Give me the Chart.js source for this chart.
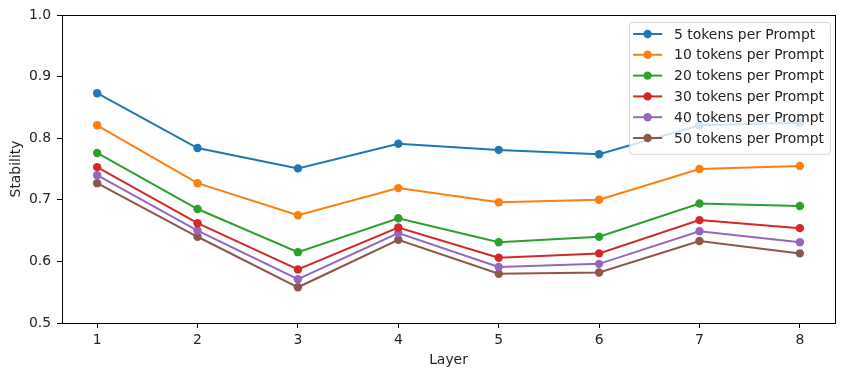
<!DOCTYPE html>
<html lang="en">
<head>
  <meta charset="UTF-8" />
  <title>Stability per Layer</title>
  <script src="https://cdn.jsdelivr.net/npm/chart.js"></script>
  <style>
    html, body { margin: 0; padding: 0; background: #fff; }
    #wrap { width: 846px; height: 376px; }
  </style>
</head>
<body>
  <div id="wrap"><canvas id="myChart" width="846" height="376"></canvas></div>
  <script>
    // data
    var layers = [1, 2, 3, 4, 5, 6, 7, 8];
    var yTicks = [0.5, 0.6, 0.7, 0.8, 0.9, 1.0];
    var seriesNames = ['5 tokens per Prompt', '10 tokens per Prompt', '20 tokens per Prompt',
                       '30 tokens per Prompt', '40 tokens per Prompt', '50 tokens per Prompt'];
    var tok5  = [0.873, 0.784, 0.751, 0.791, 0.781, 0.774, 0.821, 0.825];
    var tok10 = [0.821, 0.727, 0.675, 0.719, 0.696, 0.700, 0.750, 0.755];
    var tok20 = [0.776, 0.685, 0.615, 0.670, 0.631, 0.640, 0.694, 0.690];
    var tok30 = [0.753, 0.662, 0.587, 0.655, 0.606, 0.613, 0.667, 0.654];
    var tok40 = [0.740, 0.650, 0.571, 0.646, 0.591, 0.596, 0.649, 0.631];
    var tok50 = [0.727, 0.640, 0.558, 0.635, 0.580, 0.582, 0.633, 0.613];
    var colors = ['#1f77b4', '#ff7f0e', '#2ca02c', '#d62728', '#9467bd', '#8c564b'];

    var allSeries = [tok5, tok10, tok20, tok30, tok40, tok50];
    var FONT = 'DejaVu Sans';

    Chart.defaults.font.family = FONT;
    Chart.defaults.font.size = 13.9;
    Chart.defaults.color = '#222';

    var datasets = allSeries.map(function (vals, i) {
      return {
        label: seriesNames[i],
        data: vals.map(function (v, j) { return { x: layers[j], y: v }; }),
        borderColor: colors[i],
        backgroundColor: colors[i],
        borderWidth: 2,
        pointRadius: 4.2,
        pointHoverRadius: 4.2,
        pointBorderWidth: 0,
        tension: 0
      };
    });

    // top/right spines
    var frame = {
      id: 'frame',
      afterDatasetsDraw: function (chart) {
        var a = chart.chartArea, c = chart.ctx;
        c.save();
        c.strokeStyle = '#000';
        c.lineWidth = 1;
        c.strokeRect(Math.round(a.left) + 0.5, Math.round(a.top) + 0.5,
                     Math.round(a.right - a.left), Math.round(a.bottom - a.top));
        c.restore();
      }
    };

    // matplotlib style legend in the upper right of the axes
    var mplLegend = {
      id: 'mplLegend',
      afterDraw: function (chart) {
        var a = chart.chartArea, c = chart.ctx;
        var fs = 13.9;
        c.save();
        c.font = fs + 'px ' + FONT;
        var tw = 0;
        chart.data.datasets.forEach(function (d) { tw = Math.max(tw, c.measureText(d.label).width); });
        var rowH = 20.8;
        var w = 3 + 30 + 12 + tw + 6;
        var h = chart.data.datasets.length * rowH + 7;
        var x1 = a.right - 5, x0 = x1 - w;
        var y0 = a.top + 7;
        c.beginPath();
        c.roundRect(x0 + 0.5, y0 + 0.5, w, h, 3);
        c.fillStyle = 'rgba(255,255,255,0.8)';
        c.fill();
        c.strokeStyle = 'rgba(204,204,204,0.8)';
        c.lineWidth = 1;
        c.stroke();
        chart.data.datasets.forEach(function (d, i) {
          var cy = y0 + 12 + i * rowH;
          c.strokeStyle = d.borderColor;
          c.lineWidth = 2;
          c.beginPath();
          c.moveTo(x0 + 4, cy);
          c.lineTo(x0 + 33, cy);
          c.stroke();
          c.fillStyle = d.borderColor;
          c.beginPath();
          c.arc(x0 + 18.5, cy, 4.2, 0, Math.PI * 2);
          c.fill();
          c.fillStyle = '#222';
          c.textBaseline = 'middle';
          c.fillText(d.label, x0 + 45, cy + 1);
        });
        c.restore();
      }
    };

    new Chart(document.getElementById('myChart'), {
      type: 'line',
      data: { datasets: datasets },
      options: {
        responsive: false,
        animation: false,
        layout: { padding: { top: 15, right: 11, left: 0, bottom: 0 } },
        plugins: { legend: { display: false }, tooltip: { enabled: false } },
        scales: {
          x: {
            type: 'linear',
            min: 0.65,
            max: 8.35,
            afterBuildTicks: function (axis) {
              axis.ticks = layers.map(function (v) { return { value: v }; });
            },
            afterFit: function (axis) { axis.height = 53; },
            grid: { drawOnChartArea: false, drawTicks: true, tickLength: 5, color: '#000' },
            border: { display: true, color: '#000', width: 1 },
            ticks: { padding: 4, color: '#222', maxRotation: 0 },
            title: { display: true, text: 'Layer', color: '#222', padding: { top: 0, bottom: 7 } }
          },
          y: {
            min: 0.5,
            max: 1.0,
            afterBuildTicks: function (axis) {
              axis.ticks = yTicks.map(function (v) { return { value: v }; });
            },
            afterFit: function (axis) { axis.width = 62; },
            grid: { drawOnChartArea: false, drawTicks: true, tickLength: 5, color: '#000' },
            border: { display: true, color: '#000', width: 1 },
            ticks: {
              padding: 6,
              color: '#222',
              callback: function (v) { return v.toFixed(1); }
            },
            title: { display: true, text: 'Stability', color: '#222', padding: { top: 8.5, bottom: 0 } }
          }
        }
      },
      plugins: [frame, mplLegend]
    });
  </script>
</body>
</html>
